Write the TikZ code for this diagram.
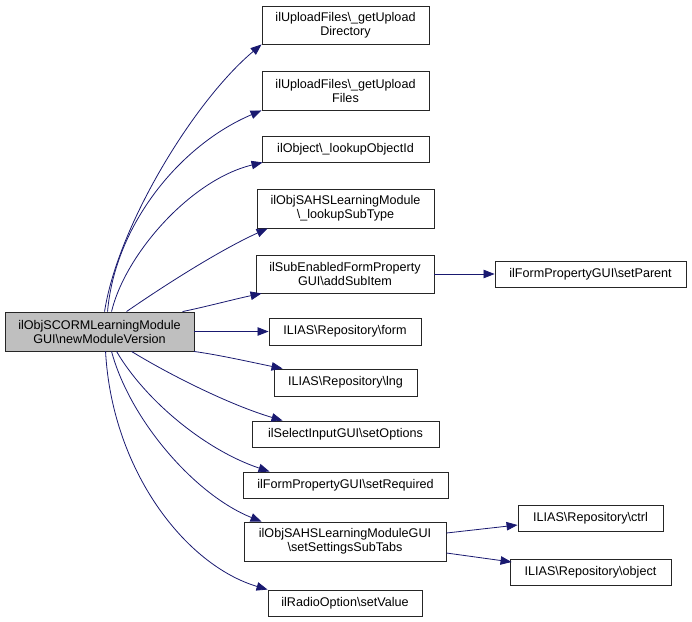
\documentclass[tikz,border=0pt]{standalone}
\usepackage{fontspec}
\setmainfont{Liberation Sans}
\usetikzlibrary{arrows.meta}
\definecolor{edgeblue}{HTML}{191970}
\definecolor{mainfill}{HTML}{BFBFBF}
\tikzset{
  box/.style={draw=black!85, line width=0.9pt, fill=white, rectangle, inner sep=0pt, align=center,
    font=\fontsize{12.6}{14}\selectfont},
  mainbox/.style={box, fill=mainfill},
  call/.style={draw=edgeblue, line width=0.8pt, -{Triangle[length=11pt,width=8.5pt]}, fill=none},
}
\newcommand{\bs}{\textbackslash}
\begin{document}
\begin{tikzpicture}[x=1pt,y=-1pt]
\useasboundingbox (0,0) rectangle (692,621);
\node[mainbox, minimum width=189, minimum height=39] (main) at (99.5,331.5) {ilObjSCORMLearningModule\\GUI\bs newModuleVersion};
\node[box, minimum width=167, minimum height=38] (t1) at (345.5,25) {ilUploadFiles\bs\_getUpload\\Directory};
\node[box, minimum width=167, minimum height=39] (t2) at (345.5,90.5) {ilUploadFiles\bs\_getUpload\\Files};
\node[box, minimum width=167, minimum height=26] (t3) at (345.5,149) {ilObject\bs\_lookupObjectId};
\node[box, minimum width=177, minimum height=39] (t4) at (345.5,208.5) {ilObjSAHSLearningModule\\\bs\_lookupSubType};
\node[box, minimum width=178, minimum height=38] (t5) at (345,274) {ilSubEnabledFormProperty\\GUI\bs addSubItem};
\node[box, minimum width=152, minimum height=27] (t6) at (345,331.5) {ILIAS\bs Repository\bs form};
\node[box, minimum width=143, minimum height=27] (t7) at (345.5,382.5) {ILIAS\bs Repository\bs lng};
\node[box, minimum width=187, minimum height=26] (t8) at (345.5,434) {ilSelectInputGUI\bs setOptions};
\node[box, minimum width=205, minimum height=26] (t9) at (345.5,485) {ilFormPropertyGUI\bs setRequired};
\node[box, minimum width=202, minimum height=39] (t10) at (345,541.5) {ilObjSAHSLearningModuleGUI\\\bs setSettingsSubTabs};
\node[box, minimum width=154, minimum height=26] (t11) at (345,603) {ilRadioOption\bs setValue};
\node[box, minimum width=191, minimum height=26] (t12) at (590.5,274) {ilFormPropertyGUI\bs setParent};
\node[box, minimum width=145, minimum height=26] (t13) at (590.5,518) {ILIAS\bs Repository\bs ctrl};
\node[box, minimum width=161, minimum height=26] (t14) at (590.5,572) {ILIAS\bs Repository\bs object};

\draw[call] ([xshift=100pt]main.north west) .. controls (118,225) and (195,100) .. (t1.south west);
\draw[call] ([xshift=103pt]main.north west) .. controls (115,225) and (180,145) .. (t2.south west);
\draw[call] ([xshift=107pt]main.north west) .. controls (125,255) and (190,180) .. ([xshift=1pt]t3.south west);
\draw[call] ([xshift=122pt]main.north west) .. controls (165,285) and (220,250) .. ([xshift=11pt]t4.south west);
\draw[call] ([xshift=178pt]main.north west) .. controls (205,307) and (235,299) .. ([xshift=6pt]t5.south west);
\draw[call] (main.east) -- (t6.west);
\draw[call] ([xshift=-0.5pt]main.south east) .. controls (220,355) and (255,363) .. ([xshift=9pt]t7.north west);
\draw[call] ([xshift=127pt]main.south west) .. controls (170,375) and (230,405) .. ([xshift=31pt]t8.north west);
\draw[call] ([xshift=112pt]main.south west) .. controls (145,400) and (205,450) .. ([xshift=27pt]t9.north west);
\draw[call] ([xshift=107pt]main.south west) .. controls (130,420) and (195,495) .. ([xshift=18pt]t10.north west);
\draw[call] ([xshift=101pt]main.south west) .. controls (112,470) and (185,565) .. (t11.north west);
\draw[call] (t5.east) -- (t12.west);
\draw[call] ([yshift=8.5pt]t10.east) -- ([yshift=-7pt]t13.west);
\draw[call] ([yshift=-11.5pt]t10.east) -- ([yshift=10pt,xshift=2pt]t14.west);
\end{tikzpicture}
\end{document}
